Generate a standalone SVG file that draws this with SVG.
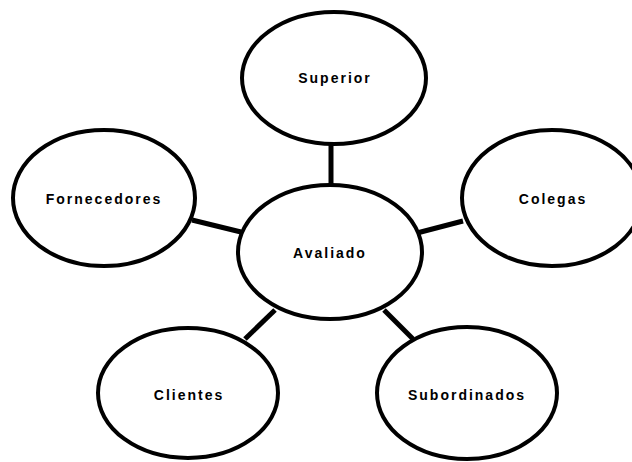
<svg xmlns="http://www.w3.org/2000/svg" width="632" height="462" viewBox="0 0 632 462">
<style>
.n ellipse{fill:#fff;stroke:#000;stroke-width:4}
.n text{font-family:"Liberation Sans",Arial,sans-serif;font-size:14px;font-weight:bold;letter-spacing:2px;text-anchor:middle;dominant-baseline:central;fill:#000}
#edges line{stroke:#000;stroke-width:5}
</style>
<rect width="632" height="462" fill="#fff"/>
<g id="edges">
<line x1="331" y1="143" x2="331" y2="187"/>
<line x1="192" y1="220" x2="241" y2="232"/>
<line x1="463" y1="221" x2="417" y2="233"/>
<line x1="245" y1="339" x2="275" y2="310"/>
<line x1="384" y1="310" x2="413" y2="339"/>
</g>
<g id="superior" class="n"><ellipse cx="334" cy="78" rx="92" ry="66"/><text x="335" y="78">Superior</text></g>
<g id="fornecedores" class="n"><ellipse cx="104" cy="198" rx="91" ry="68"/><text x="104" y="199">Fornecedores</text></g>
<g id="colegas" class="n"><ellipse cx="552" cy="198" rx="90" ry="68"/><text x="553" y="199">Colegas</text></g>
<g id="avaliado" class="n"><ellipse cx="330" cy="252" rx="92" ry="67"/><text x="330" y="253">Avaliado</text></g>
<g id="clientes" class="n"><ellipse cx="188" cy="393" rx="90" ry="65"/><text x="189" y="395">Clientes</text></g>
<g id="subordinados" class="n"><ellipse cx="467" cy="393" rx="90" ry="66"/><text x="467" y="395">Subordinados</text></g>
</svg>
